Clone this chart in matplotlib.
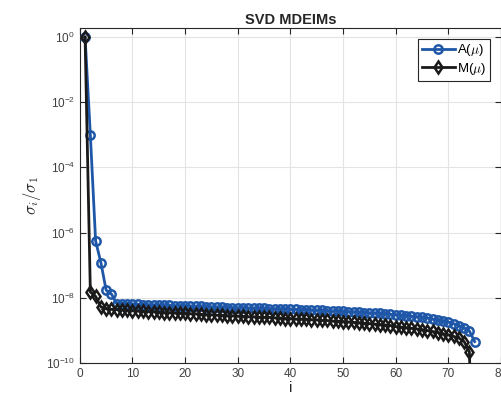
import numpy as np
import matplotlib
matplotlib.use("Agg")
import matplotlib.pyplot as plt

plt.rcParams['font.family'] = ['Liberation Sans', 'DejaVu Sans']
plt.rcParams['mathtext.fontset'] = 'cm'

# normalised singular values sigma_i / sigma_1
sv_A = [1.0, 1.0e-3, 5.5e-7, 1.2e-7, 1.7e-8, 1.3e-8, 6.6e-9, 6.5e-9, 6.4e-9, 6.3e-9,
        6.2e-9, 6.1e-9, 6.1e-9, 6.0e-9, 5.9e-9, 5.8e-9, 5.8e-9, 5.7e-9, 5.6e-9, 5.6e-9,
        5.5e-9, 5.4e-9, 5.4e-9, 5.3e-9, 5.2e-9, 5.2e-9, 5.1e-9, 5.0e-9, 5.0e-9, 4.9e-9,
        4.9e-9, 4.8e-9, 4.8e-9, 4.7e-9, 4.7e-9, 4.6e-9, 4.6e-9, 4.5e-9, 4.5e-9, 4.4e-9,
        4.4e-9, 4.3e-9, 4.3e-9, 4.2e-9, 4.1e-9, 4.1e-9, 4.0e-9, 3.9e-9, 3.9e-9, 3.8e-9,
        3.7e-9, 3.7e-9, 3.6e-9, 3.5e-9, 3.4e-9, 3.4e-9, 3.3e-9, 3.2e-9, 3.1e-9, 3.0e-9,
        2.9e-9, 2.8e-9, 2.7e-9, 2.6e-9, 2.5e-9, 2.4e-9, 2.2e-9, 2.1e-9, 1.9e-9, 1.8e-9,
        1.6e-9, 1.4e-9, 1.2e-9, 9.5e-10, 4.5e-10]
sv_M = [1.0, 1.5e-8, 1.1e-8, 5.2e-9, 4.6e-9, 4.4e-9, 4.3e-9, 4.2e-9, 4.1e-9, 4.0e-9,
        3.9e-9, 3.8e-9, 3.7e-9, 3.7e-9, 3.6e-9, 3.5e-9, 3.5e-9, 3.4e-9, 3.3e-9, 3.3e-9,
        3.2e-9, 3.2e-9, 3.1e-9, 3.0e-9, 3.0e-9, 2.9e-9, 2.9e-9, 2.8e-9, 2.8e-9, 2.7e-9,
        2.7e-9, 2.6e-9, 2.6e-9, 2.5e-9, 2.5e-9, 2.5e-9, 2.4e-9, 2.4e-9, 2.3e-9, 2.3e-9,
        2.2e-9, 2.2e-9, 2.2e-9, 2.1e-9, 2.1e-9, 2.0e-9, 2.0e-9, 1.9e-9, 1.9e-9, 1.85e-9,
        1.8e-9, 1.75e-9, 1.7e-9, 1.65e-9, 1.6e-9, 1.55e-9, 1.5e-9, 1.45e-9, 1.4e-9, 1.3e-9,
        1.25e-9, 1.2e-9, 1.15e-9, 1.1e-9, 1.05e-9, 9.8e-10, 9.2e-10, 8.5e-10, 7.8e-10, 7.2e-10,
        6.5e-10, 5.8e-10, 4.5e-10, 2.2e-10, 1e-16]
xticks = [0, 10, 20, 30, 40, 50, 60, 70, 80]
yticks = [1e0, 1e-2, 1e-4, 1e-6, 1e-8, 1e-10]
ytick_labels = [r'$\mathregular{10^{0}}$', r'$\mathregular{10^{-2}}$', r'$\mathregular{10^{-4}}$',
                r'$\mathregular{10^{-6}}$', r'$\mathregular{10^{-8}}$', r'$\mathregular{10^{-10}}$']

blue = '#1f57a8'
dark = '#1a1a1a'
axc = '#262626'

fig = plt.figure(figsize=(5.02, 4.05), dpi=100)
ax = fig.add_axes([0.159, 0.104, 0.839, 0.827])

iA = np.arange(1, len(sv_A) + 1)
iM = np.arange(1, len(sv_M) + 1)
ax.semilogy(iA, sv_A, '-o', color=blue, lw=2, ms=6, mfc='none', mew=1.8, label=r'A($\mu$)')
ax.semilogy(iM, sv_M, '-d', color=dark, lw=2, ms=6.5, mfc='none', mew=1.8, label=r'M($\mu$)')

ax.set_xlim(0, 80)
ax.set_ylim(1e-10, 1.9)
ax.set_xticks(xticks)
ax.set_yticks(yticks)
ax.set_yticklabels(ytick_labels)
ax.minorticks_off()
ax.grid(True, color='#e3e3e3', lw=0.8)
ax.set_axisbelow(True)
ax.tick_params(direction='in', length=4, width=0.8, colors=axc, labelsize=8.5,
               top=True, right=True, labelcolor='#404040')
for s in ax.spines.values():
    s.set_color(axc)
    s.set_linewidth(0.8)

ax.set_title('SVD MDEIMs', fontsize=10.5, fontweight='bold', color=axc, pad=3)
ax.set_xlabel('i', fontsize=11, color=axc, labelpad=1)
ax.set_ylabel(r'$\sigma_i/\sigma_1$', fontsize=12, color=axc, labelpad=2)

leg = ax.legend(loc='upper right', fontsize=9.5, handlelength=2.5, handletextpad=0.2,
                borderpad=0.3, labelspacing=0.2, fancybox=False, framealpha=1,
                borderaxespad=0.8)
leg.get_frame().set_edgecolor(axc)
leg.get_frame().set_linewidth(0.8)

fig.savefig('out.png', dpi=100)
